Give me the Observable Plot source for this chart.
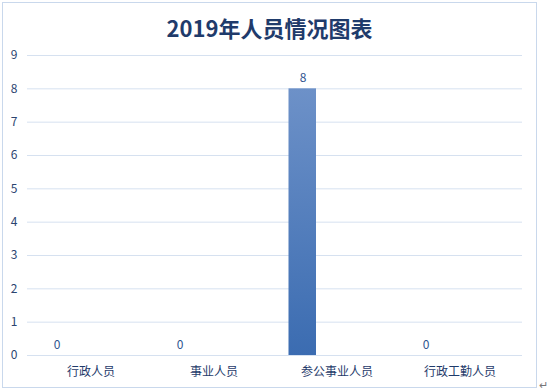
<!DOCTYPE html>
<html>
<head>
<meta charset="utf-8">
<script src="https://cdn.jsdelivr.net/npm/d3@7"></script>
<script src="https://cdn.jsdelivr.net/npm/@observablehq/plot@0.6"></script>
<style>
  html, body { margin: 0; padding: 0; background: #fff; }
  #wrap { position: relative; width: 547px; height: 391px; overflow: hidden; font-family: "Noto Sans CJK SC", "Noto Sans", sans-serif; }
  #frame { position: absolute; left: 2px; top: 2px; width: 533px; height: 384px; border: 1px solid #c9d8ec; box-sizing: content-box; }
  #title { position: absolute; left: 2px; width: 535px; top: 12px; text-align: center; font-size: 22px; font-weight: bold; color: #1f3b6b; line-height: 30px; }
  #chart { position: absolute; left: 0; top: 0; }
  #mark { position: absolute; left: 539px; top: 376px; font-size: 11px; color: #777; }
</style>
</head>
<body>
<div id="wrap">
  <div id="frame"></div>
  <div id="chart"></div>
  <div id="title">2019年人员情况图表</div>
  <div id="mark">↵</div>
</div>
<script>
const categories = ["行政人员", "事业人员", "参公事业人员", "行政工勤人员"];
const values = [0, 0, 8, 0];
const yTicks = [0, 1, 2, 3, 4, 5, 6, 7, 8, 9];

const data = categories.map((c, i) => ({category: c, value: values[i]}));

const chart = Plot.plot({
  width: 547,
  height: 391,
  marginLeft: 27,
  marginRight: 25,
  marginTop: 55,
  marginBottom: 36,
  style: {fontFamily: "'Noto Sans CJK SC', 'Noto Sans', sans-serif", background: "transparent", overflow: "visible"},
  x: {domain: categories, padding: 0, label: null},
  y: {domain: [0, 9], label: null},
  marks: [
    Plot.ruleY(yTicks, {stroke: "#d6e1f0", strokeWidth: 1}),
    Plot.barY(data, {x: "category", y: "value", fill: "url(#barGrad)", insetLeft: 13.5, insetRight: 82}),
    Plot.text(data, {x: "category", y: "value", text: d => String(d.value), dx: -34, dy: -7, lineAnchor: "bottom", fill: "#2f548f", fontSize: 12}),
    Plot.axisX({tickSize: 0, tickPadding: 12, fontSize: 12, fill: "#1f3b6b", stroke: null}),
    Plot.axisY({ticks: yTicks, tickSize: 0, tickPadding: 10, fontSize: 12, fill: "#2b4470", tickFormat: d => String(d)})
  ]
});

const svgNS = "http://www.w3.org/2000/svg";
const defs = document.createElementNS(svgNS, "defs");
const grad = document.createElementNS(svgNS, "linearGradient");
grad.setAttribute("id", "barGrad");
grad.setAttribute("x1", "0"); grad.setAttribute("y1", "0");
grad.setAttribute("x2", "0"); grad.setAttribute("y2", "1");
[["0%", "#6d91c8"], ["100%", "#3b6cb1"]].forEach(([o, c]) => {
  const s = document.createElementNS(svgNS, "stop");
  s.setAttribute("offset", o); s.setAttribute("stop-color", c);
  grad.appendChild(s);
});
defs.appendChild(grad);
chart.insertBefore(defs, chart.firstChild);

document.getElementById("chart").appendChild(chart);
</script>
</body>
</html>
